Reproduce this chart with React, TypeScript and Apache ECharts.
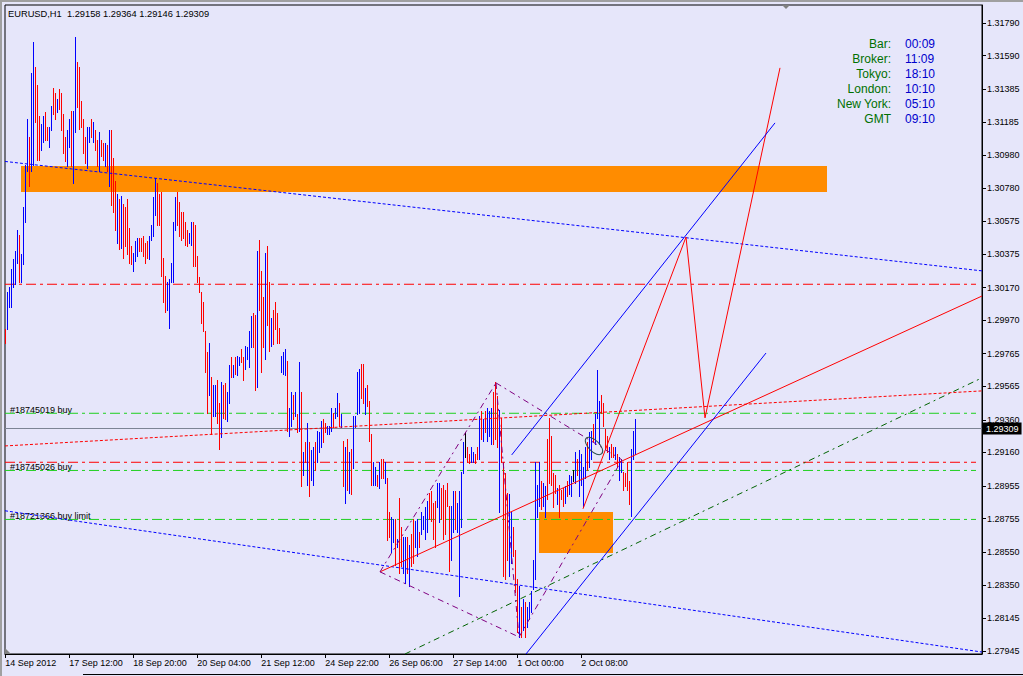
import React, { useEffect, useRef } from "react";
import * as echarts from "echarts";

// ---------- data ----------
const symbolName = "EURUSD,H1";
const lastBar = { open: 1.29158, high: 1.29364, low: 1.29146, close: 1.29309 };

const barHigh = [
  1.2991, 1.3014, 1.3017, 1.3028, 1.3034, 1.3039, 1.3052, 1.3049, 1.3037, 1.3066,
  1.3092, 1.3120, 1.3109, 1.3148, 1.3167, 1.3152, 1.3141, 1.3122, 1.3117, 1.3122,
  1.3124, 1.3115, 1.3115, 1.3128, 1.3139, 1.3136, 1.3132, 1.3138, 1.3136, 1.3123,
  1.3109, 1.3113, 1.3120, 1.3125, 1.3125, 1.3170, 1.3155, 1.3152, 1.3131, 1.3120,
  1.3109, 1.3115, 1.3115, 1.3120, 1.3118, 1.3113, 1.3107, 1.3112, 1.3107, 1.3105,
  1.3105, 1.3104, 1.3113, 1.3113, 1.3096, 1.3082, 1.3074, 1.3071, 1.3073, 1.3068,
  1.3066, 1.3071, 1.3053, 1.3042, 1.3038, 1.3045, 1.3047, 1.3047, 1.3047, 1.3048,
  1.3044, 1.3045, 1.3048, 1.3055, 1.3072, 1.3084, 1.3081, 1.3074, 1.3075, 1.3035,
  1.3024, 1.3020, 1.3022, 1.3032, 1.3057, 1.3072, 1.3075, 1.3069, 1.3063, 1.3063,
  1.3057, 1.3052, 1.3050, 1.3057, 1.3057, 1.3055, 1.3036, 1.3023, 1.3014, 1.3008,
  1.2990, 1.2977, 1.2983, 1.2962, 1.2957, 1.2957, 1.2960, 1.2946, 1.2959, 1.2957,
  1.2958, 1.2953, 1.2969, 1.2974, 1.2969, 1.2974, 1.2975, 1.2974, 1.2979, 1.2974,
  1.2981, 1.2980, 1.2990, 1.2999, 1.3001, 1.3000, 1.3039, 1.3046, 1.3027, 1.3011,
  1.3038, 1.3042, 1.3020, 1.2998, 1.3003, 1.3008, 1.3001, 1.2992, 1.2975, 1.2977,
  1.2979, 1.2972, 1.2943, 1.2953, 1.2951, 1.2953, 1.2939, 1.2971, 1.2953, 1.2916,
  1.2922, 1.2934, 1.2922, 1.2917, 1.2919, 1.2922, 1.2929, 1.2928, 1.2935, 1.2936,
  1.2934, 1.2932, 1.2932, 1.2943, 1.2940, 1.2943, 1.2952, 1.2946, 1.2939, 1.2923,
  1.2919, 1.2924, 1.2916, 1.2918, 1.2938, 1.2938, 1.2965, 1.2967, 1.2970, 1.2970,
  1.2955, 1.2957, 1.2947, 1.2927, 1.2910, 1.2907, 1.2902, 1.2910, 1.2912, 1.2912,
  1.2910, 1.2900, 1.2879, 1.2876, 1.2875, 1.2875, 1.2863, 1.2888, 1.2870, 1.2864,
  1.2864, 1.2864, 1.2859, 1.2866, 1.2875, 1.2874, 1.2875, 1.2867, 1.2879, 1.2877,
  1.2882, 1.2886, 1.2891, 1.2892, 1.2885, 1.2886, 1.2897, 1.2897, 1.2894, 1.2896,
  1.2893, 1.2897, 1.2883, 1.2883, 1.2892, 1.2892, 1.2885, 1.2892, 1.2904, 1.2922,
  1.2928, 1.2919, 1.2915, 1.2919, 1.2916, 1.2915, 1.2919, 1.2938, 1.2941, 1.2936,
  1.2941, 1.2943, 1.2941, 1.2943, 1.2953, 1.2959, 1.2950, 1.2942, 1.2937, 1.2910,
  1.2903, 1.2891, 1.2890, 1.2879, 1.2870, 1.2856, 1.2838, 1.2834, 1.2821, 1.2826,
  1.2824, 1.2821, 1.2824, 1.2831, 1.2850, 1.2910, 1.2896, 1.2910, 1.2898, 1.2897,
  1.2895, 1.2924, 1.2937, 1.2926, 1.2903, 1.2902, 1.2894, 1.2896, 1.2893, 1.2894,
  1.2895, 1.2898, 1.2902, 1.2901, 1.2905, 1.2916, 1.2912, 1.2917, 1.2915, 1.2907,
  1.2919, 1.2922, 1.2928, 1.2929, 1.2933, 1.2939, 1.2966, 1.2947, 1.2951, 1.2946,
  1.2930, 1.2926, 1.2919, 1.2921, 1.2919, 1.2919, 1.2915, 1.2913, 1.2912, 1.2904,
  1.2903, 1.2910, 1.2898, 1.2918, 1.2929, 1.29364,
];

const barLow = [
  1.2983, 1.2991, 1.3005, 1.3005, 1.3017, 1.3019, 1.3032, 1.3020, 1.3020, 1.3031,
  1.3057, 1.3088, 1.3079, 1.3088, 1.3092, 1.3118, 1.3095, 1.3095, 1.3101, 1.3106,
  1.3107, 1.3107, 1.3103, 1.3113, 1.3123, 1.3120, 1.3124, 1.3126, 1.3113, 1.3099,
  1.3094, 1.3091, 1.3103, 1.3091, 1.3081, 1.3112, 1.3127, 1.3114, 1.3115, 1.3099,
  1.3093, 1.3090, 1.3106, 1.3109, 1.3106, 1.3101, 1.3091, 1.3088, 1.3097, 1.3095,
  1.3091, 1.3088, 1.3079, 1.3067, 1.3063, 1.3052, 1.3044, 1.3040, 1.3041, 1.3035,
  1.3042, 1.3037, 1.3032, 1.3031, 1.3027, 1.3033, 1.3036, 1.3039, 1.3039, 1.3036,
  1.3032, 1.3035, 1.3034, 1.3046, 1.3048, 1.3061, 1.3055, 1.3055, 1.3024, 1.3008,
  1.3002, 1.3003, 1.2992, 1.3020, 1.3020, 1.3052, 1.3055, 1.3048, 1.3046, 1.3047,
  1.3043, 1.3042, 1.3044, 1.3043, 1.3030, 1.3030, 1.3020, 1.3014, 1.2995, 1.2990,
  1.2965, 1.2940, 1.2951, 1.2927, 1.2938, 1.2938, 1.2934, 1.2918, 1.2925, 1.2937,
  1.2936, 1.2935, 1.2946, 1.2962, 1.2962, 1.2964, 1.2963, 1.2969, 1.2971, 1.2960,
  1.2967, 1.2973, 1.2968, 1.2980, 1.2980, 1.2954, 1.2956, 1.3003, 1.2965, 1.2980,
  1.2973, 1.2994, 1.2978, 1.2981, 1.2982, 1.2991, 1.2983, 1.2983, 1.2965, 1.2964,
  1.2963, 1.2929, 1.2926, 1.2932, 1.2936, 1.2938, 1.2928, 1.2929, 1.2895, 1.2902,
  1.2910, 1.2896, 1.2889, 1.2899, 1.2896, 1.2905, 1.2910, 1.2916, 1.2919, 1.2922,
  1.2928, 1.2927, 1.2927, 1.2929, 1.2931, 1.2937, 1.2938, 1.2932, 1.2931, 1.2895,
  1.2885, 1.2893, 1.2891, 1.2890, 1.2906, 1.2931, 1.2939, 1.2940, 1.2949, 1.2946,
  1.2939, 1.2944, 1.2923, 1.2896, 1.2896, 1.2896, 1.2895, 1.2894, 1.2900, 1.2900,
  1.2897, 1.2862, 1.2864, 1.2855, 1.2861, 1.2847, 1.2858, 1.2842, 1.2846, 1.2842,
  1.2836, 1.2842, 1.2834, 1.2846, 1.2848, 1.2858, 1.2852, 1.2858, 1.2866, 1.2869,
  1.2863, 1.2867, 1.2875, 1.2874, 1.2863, 1.2858, 1.2882, 1.2873, 1.2875, 1.2863,
  1.2866, 1.2883, 1.2843, 1.2850, 1.2867, 1.2869, 1.2867, 1.2828, 1.2870, 1.2903,
  1.2913, 1.2910, 1.2909, 1.2910, 1.2910, 1.2909, 1.2912, 1.2912, 1.2924, 1.2923,
  1.2928, 1.2923, 1.2926, 1.2921, 1.2921, 1.2924, 1.2919, 1.2879, 1.2910, 1.2840,
  1.2838, 1.2850, 1.2840, 1.2848, 1.2852, 1.2830, 1.2806, 1.2803, 1.2803, 1.2807,
  1.2803, 1.2809, 1.2814, 1.2818, 1.2832, 1.2838, 1.2876, 1.2883, 1.2881, 1.2883,
  1.2876, 1.2887, 1.2897, 1.2896, 1.2882, 1.2891, 1.2884, 1.2876, 1.2887, 1.2883,
  1.2885, 1.2889, 1.2890, 1.2889, 1.2898, 1.2897, 1.2902, 1.2889, 1.2896, 1.2882,
  1.2900, 1.2905, 1.2907, 1.2912, 1.2923, 1.2921, 1.2937, 1.2921, 1.2940, 1.2932,
  1.2918, 1.2916, 1.2912, 1.2913, 1.2913, 1.2912, 1.2907, 1.2899, 1.2904, 1.2893,
  1.2895, 1.2893, 1.2884, 1.2877, 1.2912, 1.29146,
];

// u = close above open, d = close below open, x = unchanged
const barDirection = [
  "duuuuuuduu", "uuduuddduu", "dduudduddd", "duuduudddd", "duududdudd",
  "ududddudud", "dddduuuddd", "dduuuudddd", "duuuuudddd", "dduudddddd",
  "dduduuddud", "duududuudd", "uuuudduddd", "uddudddduu", "uduudududu",
  "duduuduuud", "duuuduudud", "ududuuuudd", "uddduududd", "udduududdu",
  "ududduuduu", "uudddduudd", "ddduuduuuu", "xdduuddudu", "duuudddudd",
  "dduudddudu", "duuuuuuudu", "uddddduddd", "uduuxuduuu", "uduuduuudd",
  "ddudduduud", "ddduuu",
].join("");

const timeTickBars = [0, 32, 64, 96, 128, 160, 192, 224, 256, 288];
const timeTickLabels = [
  "14 Sep 2012", "17 Sep 12:00", "18 Sep 20:00", "20 Sep 04:00", "21 Sep 12:00",
  "24 Sep 22:00", "26 Sep 06:00", "27 Sep 14:00", "1 Oct 00:00", "2 Oct 08:00",
];

const priceTickValues = [
  1.27945, 1.28145, 1.2835, 1.2855, 1.28755, 1.28955, 1.2916, 1.2936, 1.29565, 1.29765,
  1.2997, 1.3017, 1.30375, 1.30575, 1.3078, 1.3098, 1.31185, 1.31385, 1.3159, 1.3179,
];

// drawn objects, as [bar index, price]
const supplyZone = [7.85, 1.30915, 410.85, 1.30756];
const demandZone = [266.85, 1.28797, 303.85, 1.28545];

// horizontal levels
const resistanceLevel = 1.3019;
const orderPrices = [1.294, 1.2905, 1.2875];
const orderLabels = ["#18745019 buy", "#18745026 buy", "#18721366 buy limit"];
const order2Stop = 1.291;

const upperDotTrend = [[-0.15, 1.30942], [488.35, 1.30272]];
const lowerDotTrend = [[-0.15, 1.28803], [488.35, 1.27938]];
const redDotTrend = [[-0.15, 1.292], [488.35, 1.29537]];
const greenDiagonal = [[199.85, 1.27926], [488.35, 1.29617]];
const redTrend = [[187.35, 1.28429], [488.35, 1.30118]];
const redProjection = [[288.85, 1.28815], [340.35, 1.30479], [349.85, 1.29372], [387.35, 1.31515]];
const channelUpper = [[253.2, 1.29145], [384.85, 1.31178]];
const channelLower = [[260.35, 1.27926], [380.35, 1.29769]];
const patternX = [187.35, 1.28429];
const patternA = [245.35, 1.29586];
const patternB = [256.85, 1.2803];
const patternC = [308.35, 1.29115];
const ellipseCenter = [294.35, 1.292];

const clockLabels = ["Bar:", "Broker:", "Tokyo:", "London:", "New York:", "GMT"];
const clockValues = ["00:09", "11:09", "18:10", "10:10", "05:10", "09:10"];

// ---------- chart ----------
const FONT = "'Liberation Sans', Arial, sans-serif";
const BG = "#E6E6FA";
const X_MIN = -0.15;
const X_MAX = 488.35;

function dirCode(c: string) {
  return c === "u" ? 1 : c === "d" ? -1 : 0;
}

function seg(data: number[][], color: string, dash: any, z = 4) {
  return {
    type: "line",
    data,
    symbol: "none",
    showSymbol: false,
    silent: true,
    clip: true,
    z,
    lineStyle: { color, width: 1, type: dash, opacity: 1 },
  };
}

function level(price: number, color: string) {
  return seg([[X_MIN, price], [X_MAX - 3, price]], color, [10, 4, 3, 4], 2);
}

function buildOption(): any {
  const bars = barHigh.map((h, i) => [i, h, barLow[i], dirCode(barDirection[i])]);
  const header = `${symbolName}  ${lastBar.open.toFixed(5)} ${lastBar.high.toFixed(5)} ${lastBar.low.toFixed(5)} ${lastBar.close.toFixed(5)}`;
  const purple = "#800080";
  const pDash = [6, 4, 2, 4];
  const green = "#1fd01f";

  const clockGraphics: any[] = [];
  clockLabels.forEach((t, i) => {
    clockGraphics.push({
      type: "text",
      x: 891,
      y: 44 + i * 15,
      style: { text: t, fill: "#007000", fontSize: 12, fontFamily: FONT, align: "right", verticalAlign: "middle" },
    });
    clockGraphics.push({
      type: "text",
      x: 905,
      y: 44 + i * 15,
      style: { text: clockValues[i], fill: "#0000CD", fontSize: 12, fontFamily: FONT, align: "left", verticalAlign: "middle" },
    });
  });

  return {
    animation: false,
    backgroundColor: BG,
    grid: { left: 5, right: 41, top: 5, bottom: 22, show: true, borderColor: "#000", borderWidth: 1, backgroundColor: "transparent" },
    xAxis: {
      type: "value",
      min: X_MIN,
      max: X_MAX,
      axisLine: { show: true, onZero: false, lineStyle: { color: "#000", width: 1 } },
      axisTick: { show: true, customValues: timeTickBars, length: 4, inside: false, lineStyle: { color: "#000" } },
      axisLabel: {
        show: true,
        customValues: timeTickBars,
        formatter: (v: number) => {
          const k = timeTickBars.findIndex((b) => Math.abs(b - v) < 1e-6);
          return k >= 0 ? timeTickLabels[k] : "";
        },
        align: "left",
        margin: 4,
        fontSize: 9,
        color: "#000",
        fontFamily: FONT,
      },
      splitLine: { show: false },
    },
    yAxis: {
      type: "value",
      position: "right",
      min: 1.27926,
      max: 1.319,
      axisLine: { show: true, onZero: false, lineStyle: { color: "#000", width: 1 } },
      axisTick: { show: true, customValues: priceTickValues, length: 4, lineStyle: { color: "#000" } },
      axisLabel: {
        show: true,
        customValues: priceTickValues,
        formatter: (v: number) => v.toFixed(5),
        fontSize: 9,
        color: "#000",
        margin: 5,
        fontFamily: FONT,
      },
      splitLine: { show: false },
    },
    series: [
      {
        type: "custom",
        z: 1,
        silent: true,
        data: [supplyZone, demandZone],
        encode: { x: [0, 2], y: [1, 3] },
        renderItem: (_p: any, api: any) => {
          const a = api.coord([api.value(0), api.value(1)]);
          const b = api.coord([api.value(2), api.value(3)]);
          return {
            type: "rect",
            shape: { x: Math.round(a[0]), y: Math.round(a[1]), width: Math.round(b[0] - a[0]), height: Math.round(b[1] - a[1]) },
            style: { fill: "#FF8C00" },
          };
        },
      },
      level(resistanceLevel, "#ff0000"),
      level(order2Stop, "#ff0000"),
      level(orderPrices[0], green),
      level(orderPrices[1], green),
      level(orderPrices[2], green),
      {
        // order labels
        type: "custom",
        z: 2,
        silent: true,
        data: orderPrices.map((p) => [0, p]),
        encode: { y: 1 },
        renderItem: (params: any, api: any) => {
          const cs = params.coordSys;
          const y = Math.round(api.coord([0, api.value(1)])[1]) + 1;
          return {
            type: "text",
            x: cs.x + 5,
            y,
            style: { text: orderLabels[params.dataIndex], fill: "#000", fontSize: 9, fontFamily: FONT, align: "left", verticalAlign: "bottom" },
          };
        },
      },
      {
        // current price line and its axis label
        type: "custom",
        z: 2,
        silent: true,
        data: [[0, lastBar.close]],
        encode: { y: 1 },
        renderItem: (params: any, api: any) => {
          const cs = params.coordSys;
          const y = Math.round(api.coord([0, api.value(1)])[1]) + 0.5;
          return {
            type: "group",
            children: [
              { type: "line", shape: { x1: cs.x, y1: y, x2: cs.x + cs.width, y2: y }, style: { stroke: "#7c8494", lineWidth: 1 } },
              {
                type: "text",
                x: cs.x + cs.width + 1,
                y: y,
                z2: 10,
                style: {
                  text: lastBar.close.toFixed(5),
                  fill: "#fff",
                  fontSize: 9,
                  fontFamily: FONT,
                  align: "left",
                  verticalAlign: "middle",
                  backgroundColor: "#000",
                  padding: [2, 3, 1, 3],
                },
              },
            ],
          };
        },
      },
      {
        type: "custom",
        z: 3,
        silent: true,
        data: bars,
        encode: { x: 0, y: [1, 2] },
        renderItem: (_p: any, api: any) => {
          const i = api.value(0);
          const d = api.value(3);
          const top = api.coord([i, api.value(1)]);
          const bot = api.coord([i, api.value(2)]);
          const x = Math.floor(top[0]) + 0.5;
          return {
            type: "line",
            shape: { x1: x, y1: Math.floor(top[1]), x2: x, y2: Math.floor(bot[1]) + 1 },
            style: { stroke: d > 0 ? "#0000ff" : d < 0 ? "#ff0000" : "#000000", lineWidth: 1 },
          };
        },
      },
      seg(upperDotTrend, "#0000ff", [3, 2]),
      seg(lowerDotTrend, "#0000ff", [3, 2]),
      seg(redDotTrend, "#ff0000", [3, 2]),
      seg(greenDiagonal, "#006400", pDash),
      seg(redTrend, "#ff0000", "solid"),
      seg(redProjection, "#ff0000", "solid"),
      seg(channelUpper, "#0000ff", "solid"),
      seg(channelLower, "#0000ff", "solid"),
      seg([patternX, patternA], purple, pDash),
      seg([patternA, patternB], purple, pDash),
      seg([patternX, patternB], purple, pDash),
      seg([patternB, patternC], purple, pDash),
      seg([patternA, patternC], purple, pDash),
      {
        type: "custom",
        z: 5,
        silent: true,
        data: [ellipseCenter],
        encode: { x: 0, y: 1 },
        renderItem: (_p: any, api: any) => {
          const c = api.coord([api.value(0), api.value(1)]);
          return {
            type: "ellipse",
            x: c[0],
            y: c[1],
            rotation: -Math.PI / 4,
            shape: { cx: 0, cy: 0, rx: 11, ry: 5.5 },
            style: { fill: "none", stroke: "#2F4F4F", lineWidth: 1 },
          };
        },
      },
    ],
    graphic: [
      { type: "rect", shape: { x: 0, y: 0, width: 1023, height: 2 }, style: { fill: "#a0a0a0" }, silent: true },
      { type: "rect", shape: { x: 0, y: 0, width: 2, height: 676 }, style: { fill: "#a0a0a0" }, silent: true },
      { type: "rect", shape: { x: 83, y: 674, width: 940, height: 1 }, style: { fill: "#000" }, silent: true },
      {
        type: "text",
        x: 8,
        y: 14,
        style: { text: header, fill: "#000", fontSize: 9.3, fontFamily: FONT, verticalAlign: "middle" },
      },
      ...clockGraphics,
      { type: "polygon", shape: { points: [[782, 5], [790, 5], [786, 9]] }, style: { fill: "#808080" }, silent: true },
      { type: "polygon", shape: { points: [[5, 648], [5, 654], [11, 654]] }, style: { fill: "#808080" }, silent: true },
    ],
  };
}

export default function App() {
  const ref = useRef<HTMLDivElement>(null);
  useEffect(() => {
    if (!ref.current) return;
    const chart = echarts.init(ref.current, undefined, { renderer: "svg" });
    chart.setOption(buildOption());
    return () => chart.dispose();
  }, []);
  return (
    <div
      ref={ref}
      style={{ position: "fixed", left: 0, top: 0, width: 1023, height: 676, background: BG }}
    />
  );
}
